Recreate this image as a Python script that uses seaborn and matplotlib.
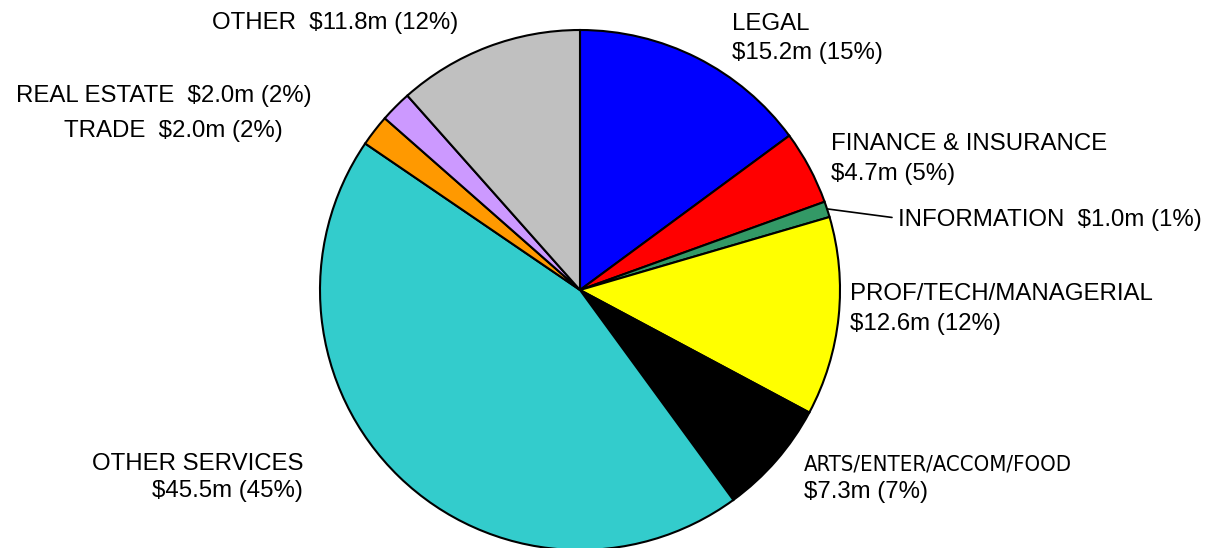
import matplotlib
matplotlib.use("Agg")
import matplotlib.pyplot as plt
from matplotlib import font_manager
import seaborn as sns

sns.set_theme(style="white")
plt.rcParams['font.family'] = ['Liberation Sans', 'DejaVu Sans']

# slices, clockwise from 12 o'clock
sectores = ['LEGAL', 'FINANCE & INSURANCE', 'INFORMATION', 'PROF/TECH/MANAGERIAL',
            'ARTS/ENTER/ACCOM/FOOD', 'OTHER SERVICES', 'TRADE', 'REAL ESTATE', 'OTHER']
montos = [15.2, 4.7, 1.0, 12.6, 7.3, 45.5, 2.0, 2.0, 11.8]
porcentajes = [15, 5, 1, 12, 7, 45, 2, 2, 12]
colores = ['#0000FF', '#FF0000', '#339966', '#FFFF00', '#000000',
           '#33CCCC', '#FF9900', '#CC99FF', '#C0C0C0']

fig = plt.figure(figsize=(12.05, 5.48), dpi=100)
# centro del pie ~ (580, 290) px, radio ~ 260 px
ax = fig.add_axes([320 / 1205, (548 - 550) / 548, 520 / 1205, 520 / 548])

ax.pie(montos, colors=colores, startangle=90, counterclock=False,
       wedgeprops=dict(edgecolor='black', linewidth=1.5), radius=1.0)
ax.set_xlim(-1, 1)
ax.set_ylim(-1, 1)
ax.set_aspect('equal')
ax.axis('off')

fs = 17.3
kw = dict(fontsize=fs, color='black', clip_on=False, va='baseline')

# fuente angosta para ARTS si existe
narrow = None
for f in font_manager.fontManager.ttflist:
    if 'Narrow' in f.name or 'Condensed' in f.fname or 'Narrow' in f.fname:
        if narrow is None or 'Liberation' in f.fname:
            if 'Bold' not in f.fname and 'Oblique' not in f.fname and 'Italic' not in f.fname:
                narrow = f.fname
fs_narrow = fs if (narrow and 'Liberation' in narrow) else 15.8
prop_narrow = font_manager.FontProperties(fname=narrow, size=fs_narrow) if narrow else None


def monto(i):
    return f"${montos[i]:.1f}m ({porcentajes[i]}%)"


# LEGAL
ax.text(0.585, 1.0, sectores[0], ha='left', **kw)
ax.text(0.585, 0.888, monto(0), ha='left', **kw)
# FINANCE & INSURANCE
ax.text(0.965, 0.538, sectores[1], ha='left', **kw)
ax.text(0.965, 0.423, monto(1), ha='left', **kw)
# INFORMATION + linea guia
ax.text(1.223, 0.246, f"{sectores[2]}  {monto(2)}", ha='left', **kw)
ax.plot([0.95, 1.2], [0.312, 0.279], color='black', lw=1.2, clip_on=False)
# PROF/TECH
ax.text(1.038, -0.038, sectores[3], ha='left', **kw)
ax.text(1.038, -0.154, monto(3), ha='left', **kw)
# ARTS
if prop_narrow is not None:
    ax.text(0.862, -0.696, sectores[4], ha='left', va='baseline', color='black',
            clip_on=False, fontproperties=prop_narrow)
else:
    ax.text(0.862, -0.696, sectores[4], ha='left', **kw)
ax.text(0.862, -0.8, monto(4), ha='left', **kw)
# OTHER SERVICES
ax.text(-1.065, -0.692, sectores[5], ha='right', **kw)
ax.text(-1.065, -0.796, monto(5), ha='right', **kw)
# TRADE, REAL ESTATE, OTHER
ax.text(-1.142, 0.588, f"{sectores[6]}  {monto(6)}", ha='right', **kw)
ax.text(-1.031, 0.723, f"{sectores[7]}  {monto(7)}", ha='right', **kw)
ax.text(-0.469, 1.002, f"{sectores[8]}  {monto(8)}", ha='right', **kw)

fig.savefig('out.png', dpi=100, facecolor='white')
